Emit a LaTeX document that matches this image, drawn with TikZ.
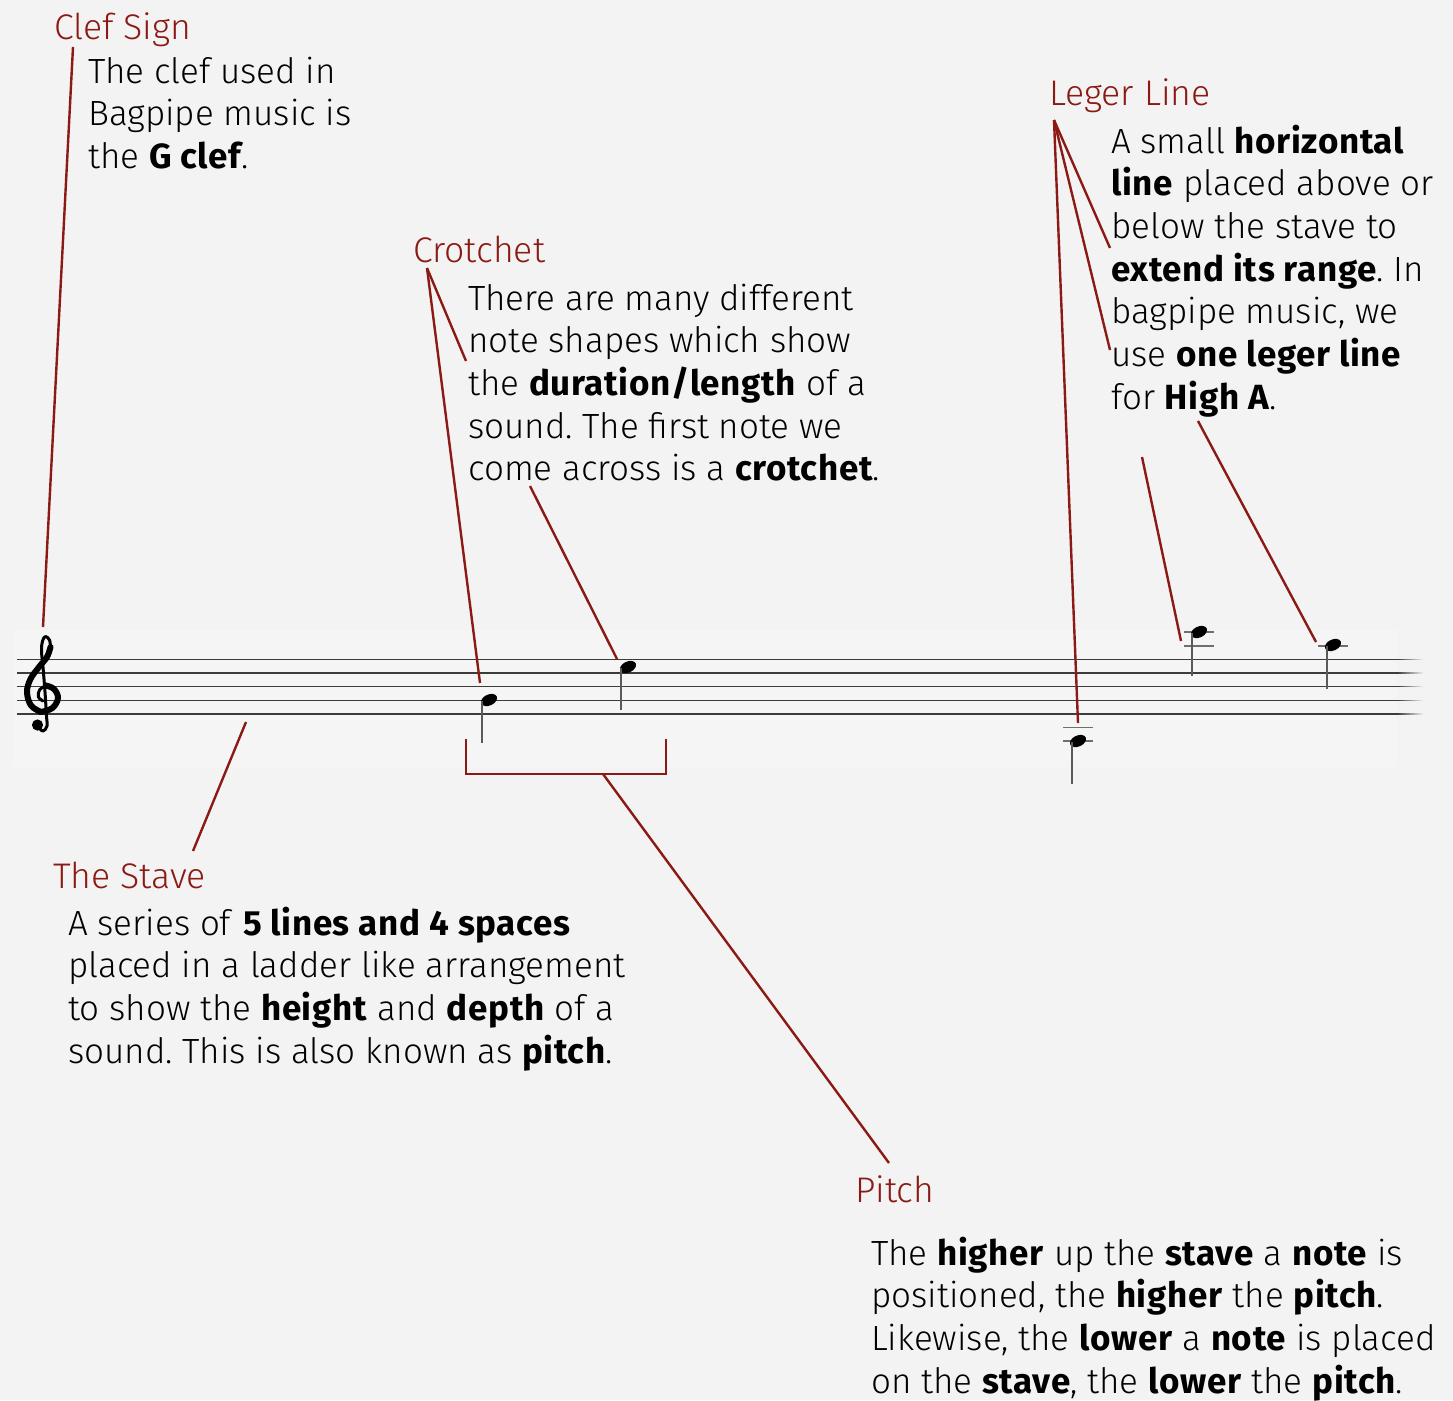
\documentclass[tikz,border=0pt]{standalone}
\usepackage{fontspec}
\setmainfont{Fira Sans Light}[BoldFont={Fira Sans Bold}, BoldFeatures={LetterSpace=1.8}]
\usetikzlibrary{shapes.geometric}

\definecolor{bg}{HTML}{F3F3F3}
\definecolor{panel}{HTML}{F5F5F5}
\definecolor{callout}{HTML}{8B1A14}
\definecolor{staff}{HTML}{3C3C3C}
\definecolor{stem}{HTML}{5A5A5A}
\definecolor{leger}{HTML}{6E6E6E}

\tikzset{
  heading/.style={anchor=base west, inner sep=0pt, text=callout,
    font=\fontsize{35.6}{42.7}\selectfont},
  body/.style={anchor=base west, inner sep=0pt, text=black,
    font=\fontsize{35}{42.7}\selectfont},
  callline/.style={draw=callout, line width=2.4pt},
  staffline/.style={draw=staff, line width=1.5pt},
  stemline/.style={draw=stem, line width=1.8pt},
  legerline/.style={draw=leger, line width=1.6pt},
  notehead/.style={ellipse, fill=black, inner sep=0pt,
    minimum width=17pt, minimum height=11pt, rotate=25},
  clefstroke/.style={draw=black, line width=3pt, line cap=round, line join=round},
  clefthick/.style={draw=black, line width=6pt, line cap=round, line join=round},
}
\newcommand{\blocktext}[1]{\begin{tabular}[t]{@{}l@{}}#1\end{tabular}}

\begin{document}
\frenchspacing
\begin{tikzpicture}[x=1pt, y=-1pt]
  % canvas
  \fill[bg] (0,0) rectangle (1453,1400);
  \useasboundingbox (0,0) rectangle (1453,1400);
  \fill[panel] (13,630) rectangle (1397,767);

  % the stave: five lines fading out on the right
  \foreach \yy in {659.5,673.1,686.7,700.3,713.9}{
    \draw[staffline] (17,\yy) -- (1397,\yy);
    \foreach \k in {0,...,12}{
      \draw[staffline, draw opacity={1-\k/13}] (1397+2*\k,\yy) -- (1399+2*\k,\yy);
    }
  }

  % G clef, drawn as strokes
  \draw[clefstroke] plot[smooth, tension=0.6] coordinates {
    (38,727) (43,731) (47,726) (46.5,716) (45,692) (43,667) (41.5,651)
    (42.5,641) (45.5,636.5) (49.5,640) (50.5,647)};
  \draw[clefthick] plot[smooth, tension=0.6] coordinates {
    (50.5,647) (47,657) (39,667) (30.5,679) (27,692) (31,705.5) (41,712)};
  \draw[clefthick] plot[smooth, tension=0.6] coordinates {
    (41,712) (52.5,708) (58,698) (54,689) (46,685.5)};
  \draw[clefstroke] plot[smooth, tension=0.6] coordinates {
    (46,685.5) (39.5,690) (38.5,697) (43,701)};
  \fill (37.5,725) circle (5.6);

  % crotchets
  \node[notehead] (n1) at (489,700) {};
  \draw[stemline] (482,701) -- (482,743);
  \node[notehead] (n2) at (628,667) {};
  \draw[stemline] (621,668) -- (621,710);

  % low note with leger lines
  \draw[legerline] (1063,727.3) -- (1093,727.3);
  \draw[legerline] (1063,741) -- (1093,741);
  \node[notehead] (n3) at (1078,741) {};
  \draw[stemline] (1072,742) -- (1072,784);

  % high notes with leger lines
  \draw[legerline] (1184,632) -- (1214,632);
  \draw[legerline] (1184,645.7) -- (1214,645.7);
  \node[notehead] (n4) at (1199,632) {};
  \draw[stemline] (1192,633) -- (1192,676);
  \draw[legerline] (1318,645.7) -- (1348,645.7);
  \node[notehead] (n5) at (1333,645) {};
  \draw[stemline] (1327,646) -- (1327,689);

  % headings
  \node[heading] (clefT) at (54,39) {Clef Sign};
  \node[heading] (crotT) at (413,262) {Crotchet};
  \node[heading] (legT) at (1049,105) {Leger Line};
  \node[heading] (staveT) at (53,888) {The Stave};
  \node[heading] (pitchT) at (855,1202) {Pitch};

  % descriptions
  \node[body] (clefB) at (88,83) {\blocktext{The clef used in\\Bagpipe music is\\the \textbf{G clef}.}};
  \node[body] (crotB) at (468,310) {\blocktext{There are many different\\note shapes which show\\the \textbf{duration/length} of a\\sound. The first note we\\come across is a \textbf{crotchet}.}};
  \node[body] (legB) at (1111,153) {\blocktext{A small \textbf{horizontal}\\\textbf{line} placed above or\\below the stave to\\\textbf{extend its range}. In\\bagpipe music, we\\use \textbf{one leger line}\\for \textbf{High A}.}};
  \node[body] (staveB) at (68,935) {\blocktext{A series of \textbf{5 lines and 4 spaces}\\placed in a ladder like arrangement\\to show the \textbf{height} and \textbf{depth} of a\\sound. This is also known as \textbf{pitch}.}};
  \node[body] (pitchB) at (871,1265) {\blocktext{The \textbf{higher} up the \textbf{stave} a \textbf{note} is\\positioned, the \textbf{higher} the \textbf{pitch}.\\Likewise, the \textbf{lower} a \textbf{note} is placed\\on the \textbf{stave}, the \textbf{lower} the \textbf{pitch}.}};

  % connector end points
  \coordinate (clefTop) at (73,47);
  \coordinate (clefEnd) at (43,627);
  \coordinate (crotApex) at (427,268);
  \coordinate (crotText) at (466,361);
  \coordinate (crotNote) at (480,683);
  \coordinate (crotB2) at (530,486);
  \coordinate (crotNote2) at (617,659);
  \coordinate (legApex) at (1054,120);
  \coordinate (legText1) at (1110,248);
  \coordinate (legText2) at (1110,350);
  \coordinate (legNote) at (1078,723);
  \coordinate (legB1) at (1142,457);
  \coordinate (legNote2) at (1181,641);
  \coordinate (legB2) at (1198,421);
  \coordinate (legNote3) at (1316,642);
  \coordinate (staveTop) at (246,722);
  \coordinate (staveEnd) at (193,851);
  \coordinate (brL) at (466,739);
  \coordinate (brR) at (666,739);
  \coordinate (brMid) at (603,774);
  \coordinate (pitchEnd) at (889,1163);

  % connectors
  \draw[callline] (clefTop) -- (clefEnd);
  \draw[callline] (crotApex) -- (crotText);
  \draw[callline] (crotApex) -- (crotNote);
  \draw[callline] (crotB2) -- (crotNote2);
  \draw[callline] (legApex) -- (legText1);
  \draw[callline] (legApex) -- (legText2);
  \draw[callline] (legApex) -- (legNote);
  \draw[callline] (legB1) -- (legNote2);
  \draw[callline] (legB2) -- (legNote3);
  \draw[callline] (staveTop) -- (staveEnd);
  \draw[callline] (brL) -- (brL |- brMid) -- (brR |- brMid) -- (brR);
  \draw[callline] (brMid) -- (pitchEnd);
\end{tikzpicture}
\end{document}
